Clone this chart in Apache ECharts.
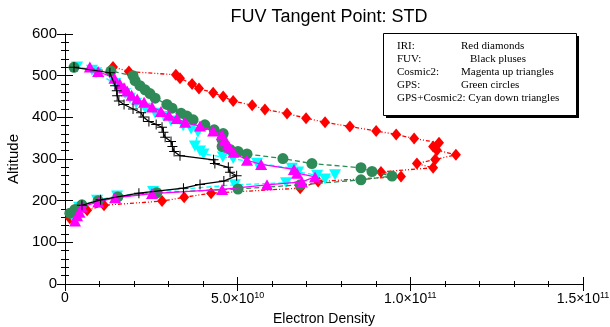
<!DOCTYPE html>
<html>
<head>
<meta charset="utf-8">
<script src="https://cdn.jsdelivr.net/npm/echarts@6/dist/echarts.min.js"></script>
<style>
  html, body { margin: 0; padding: 0; background: #fff; }
  #chart { width: 610px; height: 327px; }
</style>
</head>
<body>
<div id="chart"></div>
<script>
// Electron density values are in units of 1e10 (el/m^3 scale shown on the axis)
const iriDensity = [1.39, 1.85, 3.21, 3.33, 3.68, 3.88, 4.29, 4.58, 4.87, 5.42, 5.79, 6.43, 6.98, 7.53, 8.25, 9.01, 9.59, 10.11, 10.83, 10.66, 10.77, 11.32, 10.72, 10.19, 10.66, 9.15, 9.73, 7.33, 6.81, 4.23, 3.45, 2.81, 1.13, 0.64, 0.14];
const iriAltitude = [521, 510, 502, 494, 480, 469, 459, 450, 439, 429, 419, 409, 398, 388, 378, 367, 359, 349, 339, 330, 321, 310, 299, 289, 279, 269, 258, 246, 230, 218, 208, 199, 189, 177, 158];

const fuvDensity = [0.26, 1.30, 1.45, 1.50, 1.51, 1.56, 1.71, 1.97, 2.20, 2.27, 2.43, 2.64, 2.81, 2.85, 2.90, 3.07, 3.11, 3.16, 3.33, 4.30, 4.34, 4.73, 4.78, 4.97, 4.60, 3.91, 3.43, 2.14, 1.03, 0.49];
const fuvAltitude = [520, 507, 476, 464, 452, 439, 431, 420, 411, 401, 390, 383, 376, 364, 352, 342, 330, 318, 308, 298, 289, 280, 268, 260, 247, 239, 230, 218, 202, 189];

const cosmic2Density = [0.72, 0.96, 1.43, 1.59, 1.71, 1.80, 1.93, 2.09, 2.29, 2.52, 2.78, 3.01, 3.24, 3.48, 3.91, 4.29, 4.54, 4.60, 4.71, 4.76, 4.88, 5.27, 5.68, 6.63, 6.72, 7.24, 6.86, 5.85, 4.55, 2.52, 1.45, 0.96, 0.49, 0.42, 0.35, 0.29];
const cosmic2Altitude = [521, 510, 494, 480, 471, 463, 453, 444, 436, 425, 414, 405, 397, 388, 379, 367, 358, 344, 335, 328, 316, 297, 287, 275, 266, 257, 245, 238, 227, 217, 207, 197, 185, 172, 164, 151];

const gpsDensity = [0.26, 1.33, 1.97, 2.03, 2.17, 2.32, 2.46, 2.61, 2.95, 3.10, 3.36, 3.53, 3.71, 4.05, 4.32, 4.58, 4.55, 4.55, 4.78, 5.01, 5.27, 6.31, 7.15, 8.57, 8.89, 9.47, 8.57, 6.81, 5.01, 2.66, 1.53, 0.96, 0.49, 0.29, 0.14];
const gpsAltitude = [520, 511, 500, 488, 476, 466, 457, 446, 431, 422, 410, 403, 394, 382, 370, 361, 347, 330, 323, 318, 312, 301, 289, 279, 270, 259, 250, 238, 228, 219, 209, 200, 190, 179, 170];

const gpsCosmic2Density = [0.35, 0.78, 0.90, 1.45, 1.59, 1.74, 1.88, 2.06, 2.32, 2.61, 2.87, 3.07, 3.42, 3.65, 3.85, 3.76, 3.91, 4.01, 4.57, 4.87, 5.56, 6.57, 6.75, 7.30, 7.82, 7.53, 6.40, 4.92, 2.55, 1.51, 0.93, 0.41, 0.32, 0.23];
const gpsCosmic2Altitude = [521, 513, 507, 481, 468, 457, 446, 434, 422, 410, 402, 391, 380, 372, 364, 331, 319, 312, 305, 301, 290, 278, 269, 261, 262, 252, 243, 238, 222, 211, 201, 184, 172, 159];

// Axis ticks
const densityTicks = [0, 5, 10, 15];
const densityTickMantissa = ['0', '5.0', '1.0', '1.5'];
const densityTickExponent = ['', '10', '11', '11'];
const altitudeTicks = [0, 100, 200, 300, 400, 500, 600];

// Legend box text
const legendKeys = ['IRI:', 'FUV:', 'Cosmic2:', 'GPS:', 'GPS+Cosmic2:'];
const legendDescriptions = ['Red diamonds', 'Black pluses', 'Magenta up triangles', 'Green circles', 'Cyan down triangles'];

const pairs = (xs, ys) => xs.map((x, i) => [x, ys[i]]);

const SANS = 'Liberation Sans, Arial, Helvetica, sans-serif';
const SERIF = 'Liberation Serif, Times New Roman, serif';
const plusPath = 'path://M-0.1,-1H0.1V-0.1H1V0.1H0.1V1H-0.1V0.1H-1V-0.1H-0.1Z';

const chart = echarts.init(document.getElementById('chart'), null, { renderer: 'canvas' });

const gridBox = { left: 65, right: 27, top: 34, bottom: 43 };

const tickLabel = (v) => {
  const i = densityTicks.indexOf(v);
  if (i < 0) return '';
  if (!densityTickExponent[i]) return '{m|' + densityTickMantissa[i] + '}';
  return '{m|' + densityTickMantissa[i] + '×10}{e|' + densityTickExponent[i] + '}';
};

const frameAxis = {
  axisLine: { show: true, lineStyle: { color: '#000', width: 1 } },
  splitLine: { show: false }
};

const legendLineY = [46, 59, 72, 85, 98];
const legendGraphics = [];
legendGraphics.push({
  type: 'rect', shape: { x: 386, y: 36, width: 193, height: 82 },
  style: { fill: '#000' }, z: 100
});
legendGraphics.push({
  type: 'rect', shape: { x: 383.5, y: 33.5, width: 193, height: 82 },
  style: { fill: '#fff', stroke: '#000', lineWidth: 1 }, z: 101
});
legendKeys.forEach((k, i) => {
  const combined = i === 4;
  legendGraphics.push({
    type: 'text', x: 397, y: legendLineY[i], z: 102,
    style: {
      text: combined ? k + ' ' + legendDescriptions[i] : k,
      font: '11px ' + SERIF, fill: '#000', textVerticalAlign: 'middle'
    }
  });
  if (!combined) {
    legendGraphics.push({
      type: 'text', x: i === 1 ? 470 : 461, y: legendLineY[i], z: 102,
      style: { text: legendDescriptions[i], font: '11px ' + SERIF, fill: '#000', textVerticalAlign: 'middle' }
    });
  }
});

const option = {
  animation: false,
  backgroundColor: '#fff',
  textStyle: { fontFamily: SANS },
  title: {
    text: 'FUV Tangent Point: STD',
    left: 324, top: 3, textAlign: 'center',
    textStyle: { fontSize: 18, fontWeight: 'normal', color: '#000', fontFamily: SANS }
  },
  grid: Object.assign({ outerBoundsMode: 'none', containLabel: false }, gridBox),
  xAxis: [
    Object.assign({
      type: 'value', position: 'bottom', min: 0, max: 15, interval: 5,
      name: 'Electron Density', nameLocation: 'middle', nameGap: 28,
      nameTextStyle: { fontSize: 14, color: '#000', fontFamily: SANS },
      axisTick: { show: true, inside: true, length: 7, lineStyle: { color: '#000' } },
      minorTick: { show: true, splitNumber: 5, length: 3, lineStyle: { color: '#000' } },
      axisLabel: {
        show: true, margin: 7, color: '#000', formatter: tickLabel,
        showMinLabel: true, showMaxLabel: true,
        rich: {
          m: { fontSize: 14, fontFamily: SANS, color: '#000' },
          e: { fontSize: 9, fontFamily: SANS, color: '#000', verticalAlign: 'top', padding: [0, 0, 8, 0] }
        }
      }
    }, frameAxis),
    Object.assign({
      type: 'value', position: 'top', min: 0, max: 15, interval: 5,
      axisTick: { show: true, inside: true, length: 7, lineStyle: { color: '#000' } },
      minorTick: { show: true, splitNumber: 5, length: 3, lineStyle: { color: '#000' } },
      axisLabel: { show: false }
    }, frameAxis)
  ],
  yAxis: [
    Object.assign({
      type: 'value', position: 'left', min: 0, max: 600, interval: 100,
      name: 'Altitude', nameLocation: 'middle', nameGap: 44,
      nameTextStyle: { fontSize: 15, color: '#000', fontFamily: SANS },
      axisTick: { show: true, inside: true, length: 8, lineStyle: { color: '#000' } },
      minorTick: { show: true, splitNumber: 5, length: 4, lineStyle: { color: '#000' } },
      axisLabel: {
        show: true, margin: 8, color: '#000', fontSize: 15, fontFamily: SANS,
        formatter: (v) => altitudeTicks.indexOf(v) >= 0 ? String(v) : ''
      }
    }, frameAxis),
    Object.assign({
      type: 'value', position: 'right', min: 0, max: 600, interval: 100,
      axisTick: { show: true, inside: true, length: 8, lineStyle: { color: '#000' } },
      minorTick: { show: true, splitNumber: 5, length: 4, lineStyle: { color: '#000' } },
      axisLabel: { show: false }
    }, frameAxis)
  ],
  series: [
    {
      name: 'IRI', type: 'line', data: pairs(iriDensity, iriAltitude),
      symbol: 'diamond', symbolSize: [10, 12], showAllSymbol: true,
      itemStyle: { color: '#ff0000' },
      lineStyle: { color: '#ff0000', width: 1.3, type: [4, 2, 1, 2, 1, 2] },
      z: 2
    },
    {
      name: 'GPS+Cosmic2', type: 'line', data: pairs(gpsCosmic2Density, gpsCosmic2Altitude),
      symbol: 'triangle', symbolRotate: 180, symbolSize: [12, 11], showAllSymbol: true,
      itemStyle: { color: '#00ffff' },
      lineStyle: { color: '#00ffff', width: 1.3, type: [5, 3] },
      z: 3
    },
    {
      name: 'GPS', type: 'line', data: pairs(gpsDensity, gpsAltitude),
      symbol: 'circle', symbolSize: 11, showAllSymbol: true,
      itemStyle: { color: '#2e8b57' },
      lineStyle: { color: '#2e8b57', width: 1.3, type: [5, 3] },
      z: 4
    },
    {
      name: 'Cosmic2', type: 'line', data: pairs(cosmic2Density, cosmic2Altitude),
      symbol: 'triangle', symbolSize: [12, 11], showAllSymbol: true,
      itemStyle: { color: '#ff00ff' },
      lineStyle: { color: '#ff00ff', width: 1.3, type: 'solid' },
      z: 5
    },
    {
      name: 'FUV', type: 'line', data: pairs(fuvDensity, fuvAltitude),
      symbol: plusPath, symbolSize: 10, showAllSymbol: true,
      itemStyle: { color: '#000' },
      lineStyle: { color: '#000', width: 1.2, type: 'solid' },
      z: 6
    }
  ],
  graphic: legendGraphics
};

chart.setOption(option);
</script>
</body>
</html>
